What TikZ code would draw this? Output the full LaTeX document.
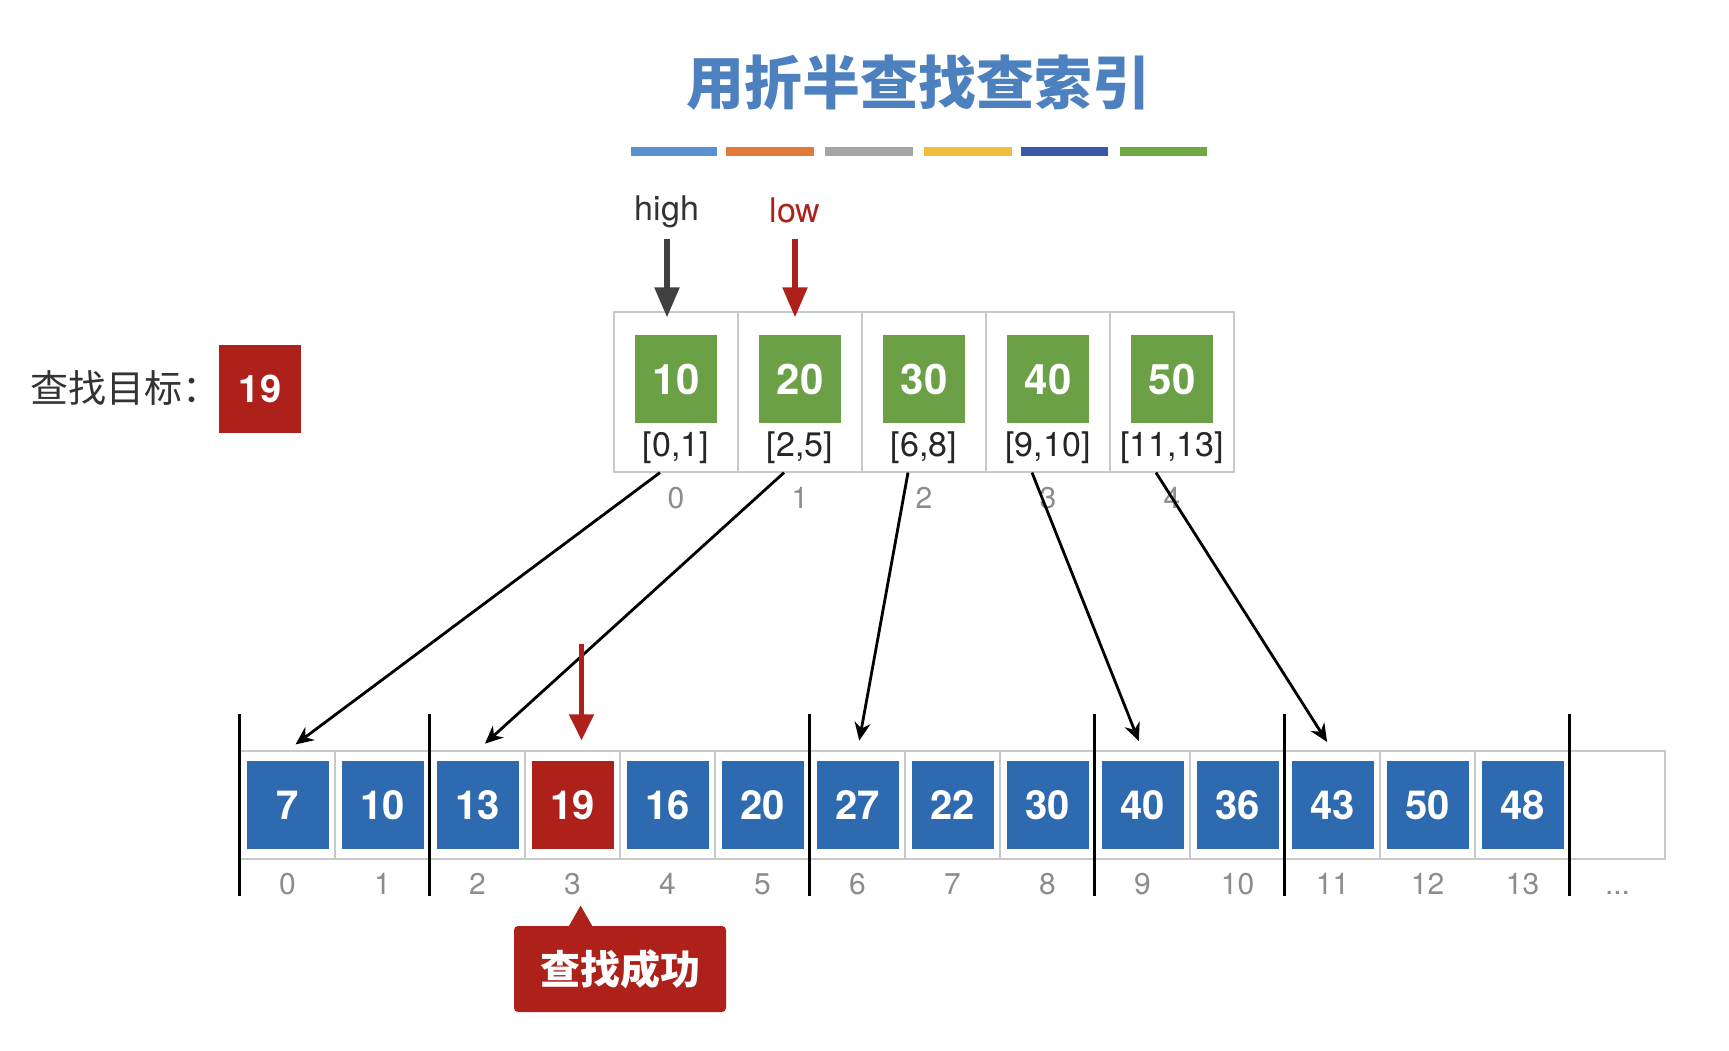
\documentclass[tikz,border=0pt]{standalone}
\usepackage{fontspec}
\setmainfont{TeX Gyre Heros}
\newfontfamily\cjk{Noto Sans CJK SC}
\usetikzlibrary{positioning, arrows.meta, calc}

\definecolor{titleblue}{RGB}{77,128,190}
\definecolor{keygreen}{RGB}{108,160,70}
\definecolor{cellblue}{RGB}{46,106,175}
\definecolor{hitred}{RGB}{174,33,26}
\definecolor{framegray}{RGB}{200,200,200}
\definecolor{idxgray}{RGB}{140,140,140}
\definecolor{barA}{RGB}{91,143,206}
\definecolor{barB}{RGB}{224,122,58}
\definecolor{barC}{RGB}{165,165,165}
\definecolor{barD}{RGB}{240,190,60}
\definecolor{barE}{RGB}{58,88,170}
\definecolor{barF}{RGB}{112,168,70}

\begin{document}
\begin{tikzpicture}[x=0.5pt, y=-0.5pt,
  every node/.style={inner sep=0pt},
  keyframe/.style={draw=framegray, line width=0.6pt, minimum width=62pt, minimum height=80pt},
  slot/.style={draw=framegray, line width=0.6pt, minimum width=47.5pt, minimum height=54pt},
  keybox/.style={fill=keygreen, text=white, minimum width=41pt, minimum height=44pt,
    font=\fontsize{21}{24}\selectfont\bfseries},
  valbox/.style={text=white, minimum width=41pt, minimum height=44pt,
    font=\fontsize{20}{24}\selectfont\bfseries},
  spanlbl/.style={font=\fontsize{17}{20}\selectfont, text=black!85},
  idx/.style={font=\fontsize{15}{18}\selectfont, text=idxgray},
  link/.style={-{Stealth[length=9pt, width=8pt]}, line width=1.4pt, shorten >=5pt},
  ptr/.style={-{Triangle[length=15pt, width=12pt]}, line width=2.6pt},
  blocksep/.style={line width=1.6pt}]
  \useasboundingbox (0,0) rectangle (1729,1050);

  % title and colour bars
  \node[font=\cjk\fontsize{29}{34}\selectfont\bfseries, text=titleblue] (title) at (918,83) {用折半查找查索引};
  \foreach \a/\b/\c in {631/717/barA, 726/814/barB, 825/913/barC, 924/1012/barD, 1021/1108/barE, 1120/1207/barF}
    \fill[\c] (\a,147) rectangle (\b,156);

  % search target
  \node[valbox, fill=hitred, font=\fontsize{19}{22}\selectfont\bfseries] (goal) at (260,389) {19};
  \node[font=\cjk\fontsize{19}{22}\selectfont, text=black!80, anchor=west] (goallbl) at (30,388) {查找目标：};

  % index table
  \foreach \v/\r [count=\i from 0] in {10/{[0,1]}, 20/{[2,5]}, 30/{[6,8]}, 40/{[9,10]}, 50/{[11,13]}}{
    \node[keyframe] (tc\i) at ({676+124*\i},392) {};
    \node[keybox] (tk\i) at ({676+124*\i},379) {\v};
    \node[spanlbl] (tr\i) at ({676+124*\i},448) {\r};
    \node[idx] (ti\i) at ({676+124*\i},498) {\i};
  }

  % high / low pointers
  \coordinate (ptrtop) at (0,239);
  \node[font=\fontsize{17}{20}\selectfont, text=black!80] (high) at (667,212) {high};
  \node[font=\fontsize{17}{20}\selectfont, text=hitred] (low) at (795,210) {low};
  \draw[ptr, black!75] (high |- ptrtop) -- ([yshift=-3pt]high |- tc0.north);
  \draw[ptr, hitred] (low |- ptrtop) -- ([yshift=-3pt]low |- tc1.north);

  % main table
  \foreach \i in {0,...,14}
    \node[slot] (bc\i) at ({287.5+95*\i},805) {};
  \foreach \v/\c [count=\i from 0] in {7/cellblue, 10/cellblue, 13/cellblue, 19/hitred, 16/cellblue,
      20/cellblue, 27/cellblue, 22/cellblue, 30/cellblue, 40/cellblue, 36/cellblue, 43/cellblue,
      50/cellblue, 48/cellblue}{
    \node[valbox, fill=\c] (bv\i) at (bc\i) {\v};
    \node[idx] (bi\i) at ({287.5+95*\i},884) {\i};
  }
  \node[idx, anchor=base] (more) at (bc14 |- bi0.base) {...};

  % block boundaries
  \foreach \k in {0,2,6,9,11,14}
    \draw[blocksep] ($(bc\k.north west)+(0,-36)$) -- ($(bc\k.south west)+(0,36)$);

  % index entries to blocks
  \foreach \t/\b in {0/0, 1/2, 2/6, 3/9, 4/11}
    \draw[link] ($(tc\t.south)+(-16,0)$) -- (bc\b.north);

  % hit
  \draw[hitred, line width=2.4pt, -{Triangle[length=13pt, width=12pt]}]
    ($(bc3.north)+(9,-106)$) -- ($(bc3.north)+(9,-10)$);
  \node[fill=hitred, text=white, rounded corners=2pt, minimum width=106pt, minimum height=43pt,
    font=\cjk\fontsize{20}{24}\selectfont\bfseries] (found) at (620,969) {查找成功};
  \fill[hitred] ($(found.north west)+(55,1)$) -- ($(found.north west)+(67,-20)$)
    -- ($(found.north west)+(79,1)$) -- cycle;
\end{tikzpicture}
\end{document}
